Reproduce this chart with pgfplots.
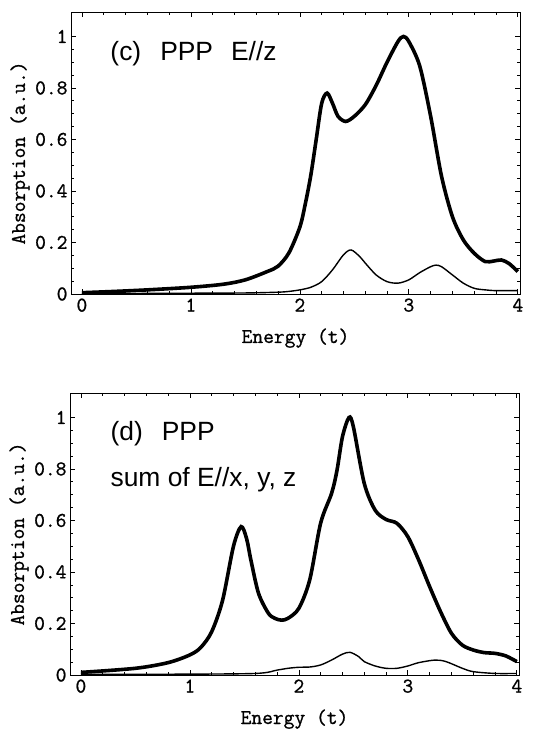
\documentclass[border=0pt]{standalone}
\usepackage{pgfplots}
\pgfplotsset{compat=1.18}
\usepackage{fontspec}
\setmainfont{Liberation Sans}
\newfontfamily\cour{Latin Modern Mono}[FakeBold=1]
\pgfplotstableread{
x y
0.00 0.005
0.30 0.010
0.60 0.016
1.00 0.026
1.30 0.038
1.50 0.055
1.70 0.087
1.80 0.108
1.90 0.160
2.00 0.260
2.05 0.350
2.10 0.460
2.15 0.600
2.20 0.740
2.25 0.780
2.30 0.740
2.35 0.690
2.42 0.670
2.50 0.690
2.60 0.735
2.70 0.810
2.80 0.900
2.90 0.980
2.95 1.000
3.00 0.980
3.10 0.885
3.20 0.690
3.30 0.457
3.40 0.300
3.50 0.210
3.60 0.158
3.70 0.126
3.78 0.128
3.85 0.132
3.92 0.118
4.00 0.087
}\cthick
\pgfplotstableread{
x y
0.00 0.001
0.50 0.002
1.00 0.003
1.50 0.004
1.80 0.007
1.90 0.010
2.00 0.016
2.10 0.026
2.20 0.048
2.30 0.094
2.40 0.152
2.47 0.171
2.55 0.145
2.60 0.120
2.70 0.074
2.80 0.048
2.90 0.042
3.00 0.055
3.10 0.083
3.20 0.106
3.25 0.112
3.30 0.106
3.40 0.074
3.50 0.042
3.60 0.022
3.70 0.016
3.80 0.013
4.00 0.013
}\cthin
\pgfplotstableread{
x y
0.00 0.010
0.50 0.026
0.80 0.048
1.00 0.078
1.10 0.107
1.20 0.168
1.30 0.290
1.40 0.500
1.47 0.576
1.52 0.530
1.56 0.446
1.63 0.317
1.72 0.240
1.78 0.220
1.84 0.213
1.90 0.220
2.00 0.259
2.10 0.370
2.20 0.590
2.30 0.705
2.35 0.795
2.40 0.925
2.46 1.000
2.50 0.964
2.60 0.744
2.70 0.640
2.80 0.604
2.90 0.589
3.00 0.537
3.10 0.446
3.20 0.343
3.30 0.246
3.40 0.162
3.50 0.116
3.60 0.097
3.70 0.087
3.80 0.084
3.90 0.074
4.00 0.052
}\dthick
\pgfplotstableread{
x y
0.00 0.003
0.80 0.003
1.60 0.006
1.80 0.019
1.90 0.026
2.00 0.030
2.10 0.031
2.20 0.039
2.30 0.058
2.40 0.081
2.47 0.088
2.55 0.071
2.60 0.052
2.70 0.035
2.80 0.026
2.90 0.026
3.00 0.035
3.10 0.048
3.25 0.058
3.35 0.052
3.50 0.026
3.60 0.013
3.80 0.006
4.00 0.006
}\dthin
\pgfplotsset{
  panel/.style={
    width=449bp, height=282bp, scale only axis,
    xmin=-0.1, xmax=4.02, ymin=0, ymax=1.095,
    xtick={0,1,2,3,4}, minor x tick num=4,
    ytick={0,0.2,0.4,0.6,0.8,1}, minor y tick num=3,
    yticklabels={0,0.2,0.4,0.6,0.8,1},
    xticklabels={0,1,2,3,4},
    tick align=inside,
    major tick length=5bp, minor tick length=3bp,
    axis line style={line width=0.9bp},
    tick style={line width=0.7bp, black},
    tick label style={font=\cour\fontsize{21}{23}\selectfont},
    xticklabel style={yshift=-1bp},
    label style={font=\cour\fontsize{21}{23}\selectfont},
    xlabel={Energy (t)},
    ylabel={Absorption (a.u.)},
    xlabel style={at={(axis description cs:0.5,0)}, anchor=base, yshift=-49bp},
    ylabel style={at={(axis description cs:0,0.5)}, anchor=center, yshift=51bp},
    clip=true,
  }
}
\begin{document}
\begin{tikzpicture}[x=1bp,y=1bp]
\path[use as bounding box] (0,0) rectangle (540,730);
\begin{axis}[panel, at={(71bp,436bp)}, anchor=south west]
\addplot[black, line width=3.6bp, smooth] table {\cthick};
\addplot[black, line width=1.4bp, smooth] table {\cthin};
\node[anchor=base west, font=\fontsize{26.5}{28}\selectfont] at (axis cs:0.23,0.905) {(c)\hspace{19bp}PPP\hspace{18bp}E//z};
\end{axis}
\begin{axis}[panel, at={(70bp,55bp)}, anchor=south west]
\addplot[black, line width=3.6bp, smooth] table {\dthick};
\addplot[black, line width=1.4bp, smooth] table {\dthin};
\node[anchor=base west, font=\fontsize{26.5}{28}\selectfont] at (axis cs:0.24,0.91) {(d)\hspace{19bp}PPP};
\node[anchor=base west, font=\fontsize{26.5}{28}\selectfont] at (axis cs:0.24,0.73) {sum of E//x, y, z};
\end{axis}
\end{tikzpicture}
\end{document}
